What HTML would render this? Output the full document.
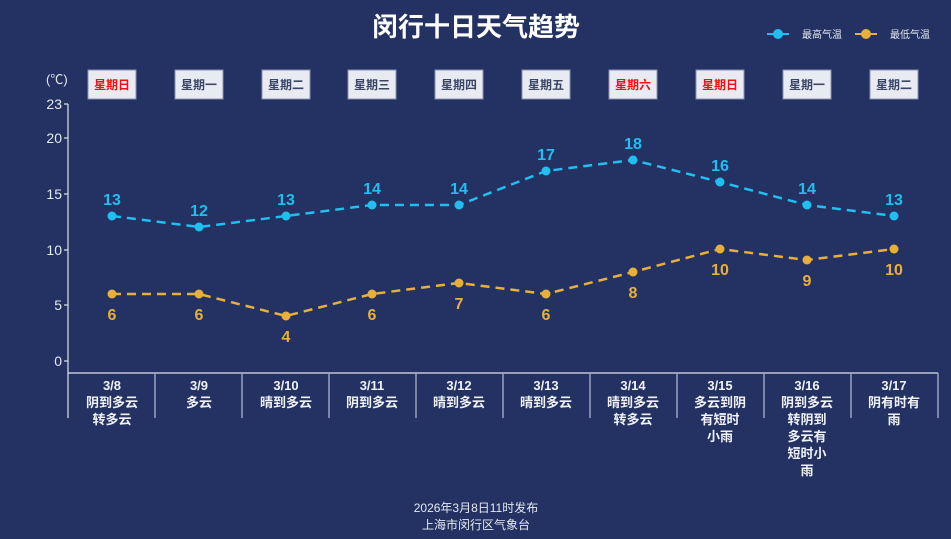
<!DOCTYPE html>
<html><head><meta charset="utf-8"><style>
html,body{margin:0;padding:0;background:#233263;}
svg{display:block;font-family:"Liberation Sans","Noto Sans CJK SC",sans-serif;}
</style></head><body>
<svg width="951" height="539" viewBox="0 0 951 539" xmlns="http://www.w3.org/2000/svg">
<rect width="951" height="539" fill="#233263"/>
<text x="476" y="36" text-anchor="middle" font-size="26" font-weight="bold" fill="#ffffff">闵行十日天气趋势</text>
<!-- legend -->
<line x1="767" y1="34" x2="789" y2="34" stroke="#1fc0f0" stroke-width="2"/><circle cx="778" cy="34" r="5" fill="#1fc0f0"/>
<text x="802" y="38" font-size="10" fill="#e6e8f0">最高气温</text>
<line x1="855" y1="34" x2="877" y2="34" stroke="#e8b03a" stroke-width="2"/><circle cx="866" cy="34" r="5" fill="#e8b03a"/>
<text x="890" y="38" font-size="10" fill="#e6e8f0">最低气温</text>
<text x="46" y="84" font-size="13" fill="#e6e8f0">(℃)</text>
<!-- y axis -->
<g stroke="#dfe3ee" stroke-width="1.2">
<line x1="68" y1="104" x2="68" y2="418"/>
<line x1="64" y1="104" x2="68" y2="104"/><line x1="64" y1="138" x2="68" y2="138"/><line x1="64" y1="194" x2="68" y2="194"/><line x1="64" y1="250" x2="68" y2="250"/><line x1="64" y1="305" x2="68" y2="305"/><line x1="64" y1="361" x2="68" y2="361"/>
<line x1="68" y1="373" x2="938" y2="373"/>
</g>
<g stroke="#9aa3bd" stroke-width="1.5">
<line x1="155" y1="373" x2="155" y2="418"/><line x1="242" y1="373" x2="242" y2="418"/><line x1="329" y1="373" x2="329" y2="418"/><line x1="416" y1="373" x2="416" y2="418"/><line x1="503" y1="373" x2="503" y2="418"/><line x1="590" y1="373" x2="590" y2="418"/><line x1="677" y1="373" x2="677" y2="418"/><line x1="764" y1="373" x2="764" y2="418"/><line x1="851" y1="373" x2="851" y2="418"/><line x1="938" y1="373" x2="938" y2="418"/>
</g>
<g font-size="14" fill="#e6e8f0" text-anchor="end">
<text x="62" y="109">23</text><text x="62" y="143">20</text><text x="62" y="199">15</text><text x="62" y="255">10</text><text x="62" y="310">5</text><text x="62" y="366">0</text>
</g>
<!-- day boxes -->
<g font-size="12" font-weight="bold" text-anchor="middle">
<g fill="#e9ebf3" stroke="#8a93ab">
<rect x="88" y="70" width="48" height="29"/><rect x="175" y="70" width="48" height="29"/><rect x="262" y="70" width="48" height="29"/><rect x="348" y="70" width="48" height="29"/><rect x="435" y="70" width="48" height="29"/><rect x="522" y="70" width="48" height="29"/><rect x="609" y="70" width="48" height="29"/><rect x="696" y="70" width="48" height="29"/><rect x="783" y="70" width="48" height="29"/><rect x="870" y="70" width="48" height="29"/>
</g>
<text x="112" y="89" fill="#f01010">星期日</text><text x="199" y="89" fill="#3a4666">星期一</text><text x="286" y="89" fill="#3a4666">星期二</text><text x="372" y="89" fill="#3a4666">星期三</text><text x="459" y="89" fill="#3a4666">星期四</text><text x="546" y="89" fill="#3a4666">星期五</text><text x="633" y="89" fill="#f01010">星期六</text><text x="720" y="89" fill="#f01010">星期日</text><text x="807" y="89" fill="#3a4666">星期一</text><text x="894" y="89" fill="#3a4666">星期二</text>
</g>
<!-- high line -->
<polyline fill="none" stroke="#1fc0f0" stroke-width="2.5" stroke-dasharray="9,6" points="112,216 199,227 286,216 372,205 459,205 546,171 633,160 720,182 807,205 894,216"/>
<g fill="#1fc0f0">
<circle cx="112" cy="216" r="4.5"/><circle cx="199" cy="227" r="4.5"/><circle cx="286" cy="216" r="4.5"/><circle cx="372" cy="205" r="4.5"/><circle cx="459" cy="205" r="4.5"/><circle cx="546" cy="171" r="4.5"/><circle cx="633" cy="160" r="4.5"/><circle cx="720" cy="182" r="4.5"/><circle cx="807" cy="205" r="4.5"/><circle cx="894" cy="216" r="4.5"/>
</g>
<g fill="#1fc0f0" font-size="16" font-weight="bold" text-anchor="middle">
<text x="112" y="205">13</text><text x="199" y="216">12</text><text x="286" y="205">13</text><text x="372" y="194">14</text><text x="459" y="194">14</text><text x="546" y="160">17</text><text x="633" y="149">18</text><text x="720" y="171">16</text><text x="807" y="194">14</text><text x="894" y="205">13</text>
</g>
<!-- low line -->
<polyline fill="none" stroke="#e8b03a" stroke-width="2.5" stroke-dasharray="9,6" points="112,294 199,294 286,316 372,294 459,283 546,294 633,272 720,249 807,260 894,249"/>
<g fill="#e8b03a">
<circle cx="112" cy="294" r="4.5"/><circle cx="199" cy="294" r="4.5"/><circle cx="286" cy="316" r="4.5"/><circle cx="372" cy="294" r="4.5"/><circle cx="459" cy="283" r="4.5"/><circle cx="546" cy="294" r="4.5"/><circle cx="633" cy="272" r="4.5"/><circle cx="720" cy="249" r="4.5"/><circle cx="807" cy="260" r="4.5"/><circle cx="894" cy="249" r="4.5"/>
</g>
<g fill="#e8b03a" font-size="16" font-weight="bold" text-anchor="middle">
<text x="112" y="320">6</text><text x="199" y="320">6</text><text x="286" y="342">4</text><text x="372" y="320">6</text><text x="459" y="309">7</text><text x="546" y="320">6</text><text x="633" y="298">8</text><text x="720" y="275">10</text><text x="807" y="286">9</text><text x="894" y="275">10</text>
</g>
<!-- x labels -->
<g fill="#f0f2f8" font-size="13" font-weight="bold" text-anchor="middle">
<text x="112" y="390">3/8</text><text x="112" y="407">阴到多云</text><text x="112" y="424">转多云</text>
<text x="199" y="390">3/9</text><text x="199" y="407">多云</text>
<text x="286" y="390">3/10</text><text x="286" y="407">晴到多云</text>
<text x="372" y="390">3/11</text><text x="372" y="407">阴到多云</text>
<text x="459" y="390">3/12</text><text x="459" y="407">晴到多云</text>
<text x="546" y="390">3/13</text><text x="546" y="407">晴到多云</text>
<text x="633" y="390">3/14</text><text x="633" y="407">晴到多云</text><text x="633" y="424">转多云</text>
<text x="720" y="390">3/15</text><text x="720" y="407">多云到阴</text><text x="720" y="424">有短时</text><text x="720" y="441">小雨</text>
<text x="807" y="390">3/16</text><text x="807" y="407">阴到多云</text><text x="807" y="424">转阴到</text><text x="807" y="441">多云有</text><text x="807" y="458">短时小</text><text x="807" y="475">雨</text>
<text x="894" y="390">3/17</text><text x="894" y="407">阴有时有</text><text x="894" y="424">雨</text>
</g>
<g fill="#e6e8f0" font-size="12" text-anchor="middle">
<text x="476" y="512">2026年3月8日11时发布</text>
<text x="476" y="529">上海市闵行区气象台</text>
</g>
</svg>
</body></html>
